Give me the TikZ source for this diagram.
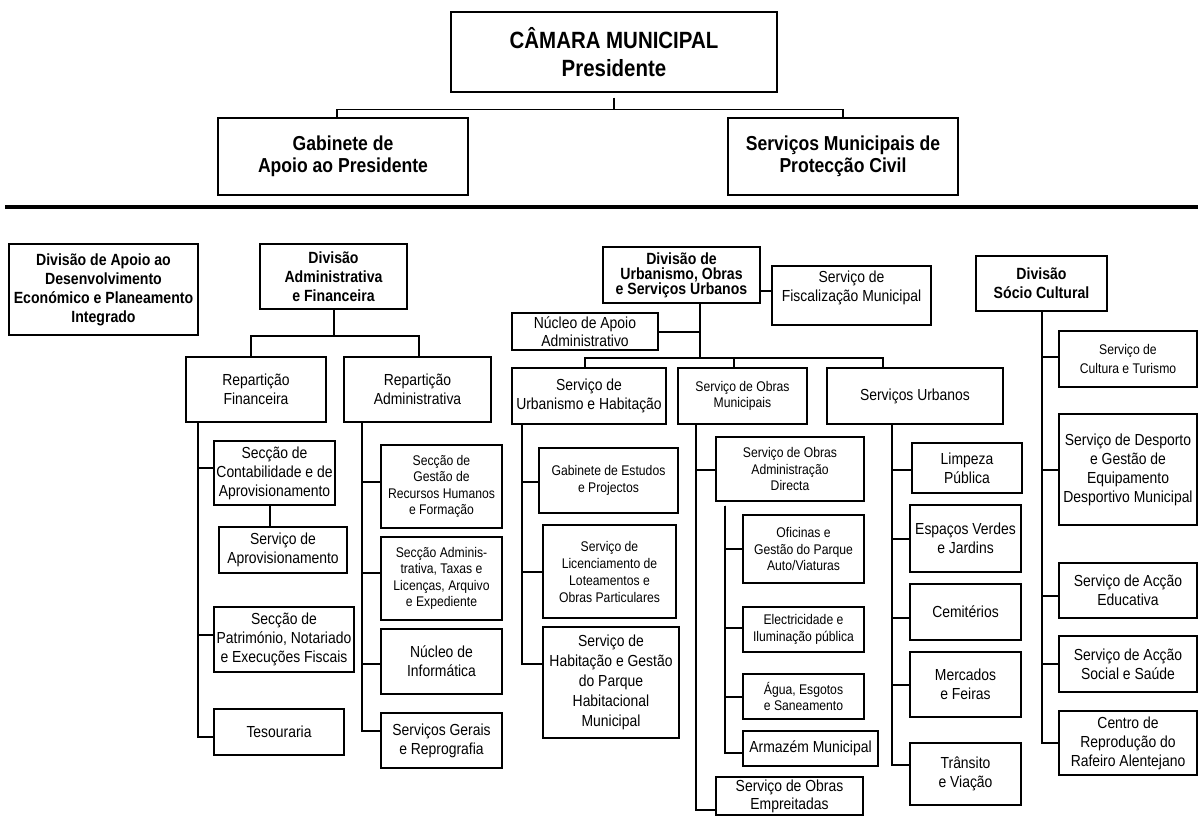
\documentclass[tikz,border=0pt]{standalone}
\usepackage{fontspec}
\setmainfont{Liberation Sans}[FakeStretch=0.87]

\begin{document}
\begin{tikzpicture}[x=1pt, y=-1pt]
    \tikzstyle{box_style} = [draw, line width=1.3pt, align=center, inner sep=1pt, font=\fontsize{16}{19}\selectfont]
    \tikzstyle{small_style} = [box_style, font=\fontsize{14}{16.5}\selectfont]
    \tikzstyle{head_style} = [box_style, font=\bfseries\fontsize{16.2}{19}\selectfont]
    \tikzstyle{link_style} = [line width=2pt]
    \tikzstyle{top_link_style} = [line width=1.6pt]

    \useasboundingbox (0,0) rectangle (1198,834);

    % presidency
    \node[box_style, font=\bfseries\fontsize{23.5}{28}\selectfont, minimum width=326pt, minimum height=80pt] (camara) at (614,52) {CÂMARA MUNICIPAL\\Presidente};
    \node[box_style, font=\bfseries\fontsize{20.2}{22}\selectfont, minimum width=250pt, minimum height=77pt] (gabinete) at (343,156.5) {Gabinete de\\Apoio ao Presidente};
    \node[box_style, font=\bfseries\fontsize{20.2}{22}\selectfont, minimum width=230pt, minimum height=77pt] (protcivil) at (843,156.5) {Serviços Municipais de\\Protecção Civil};

    \draw[top_link_style] ([yshift=-5]camara.south) -- ++(0,12) coordinate (topbar);
    \draw[top_link_style] ([xshift=-6]gabinete.north) |- (topbar) -| (protcivil.north);

    \draw[line width=4pt] (5,207) -- (1198,207);

    % divisao de apoio
    \node[head_style, minimum width=189pt, minimum height=91pt] (divapoio) at (103.5,289.5) {Divisão de Apoio ao\\Desenvolvimento\\Económico e Planeamento\\Integrado};

    % divisao administrativa e financeira
    \node[head_style, minimum width=147pt, minimum height=65pt] (divadm) at (333.5,276.5) {Divisão\\Administrativa\\e Financeira};
    \node[box_style, minimum width=140pt, minimum height=65pt] (repfin) at (256,389.5) {Repartição\\Financeira};
    \node[box_style, minimum width=147pt, minimum height=65pt] (repadm) at (417.5,389.5) {Repartição\\Administrativa};

    \draw[link_style] (divadm.south) -- ++(0,26) coordinate (admbar);
    \draw[link_style] ([xshift=-5]repfin.north) |- (admbar) -| ([xshift=1.5]repadm.north);

    \node[box_style, minimum width=121pt, minimum height=64pt] (contab) at (274.5,473) {Secção de\\Contabilidade e de\\Aprovisionamento};
    \node[box_style, minimum width=128pt, minimum height=46pt] (aprov) at (283,550) {Serviço de\\Aprovisionamento};
    \node[box_style, minimum width=140pt, minimum height=65pt] (patrim) at (284,639.5) {Secção de\\Património, Notariado\\e Execuções Fiscais};
    \node[box_style, minimum width=130pt, minimum height=46pt] (tesour) at (279,732) {Tesouraria};

    \draw[link_style] ([xshift=-4.5]contab.south) -- ([xshift=-4.5]contab.south |- aprov.north);
    \draw[link_style] ([xshift=13]repfin.south west) |- ([yshift=5]contab.west);
    \draw[link_style] ([xshift=13]repfin.south west) |- ([yshift=4.5]patrim.west);
    \draw[link_style] ([xshift=13]repfin.south west) |- ([yshift=-5]tesour.west);

    \node[small_style, minimum width=121pt, minimum height=83pt] (rhum) at (441.5,486.5) {Secção de\\Gestão de\\Recursos Humanos\\e Formação};
    \node[small_style, minimum width=121pt, minimum height=83pt] (taxas) at (441.5,578.5) {Secção Adminis-\\trativa, Taxas e\\Licenças, Arquivo\\e Expediente};
    \node[box_style, minimum width=121pt, minimum height=65pt] (inform) at (441.5,661.5) {Núcleo de\\Informática};
    \node[box_style, minimum width=121pt, minimum height=55pt] (gerais) at (441.5,740.5) {Serviços Gerais\\e Reprografia};

    \draw[link_style] ([xshift=19]repadm.south west) |- ([yshift=4.5]rhum.west);
    \draw[link_style] ([xshift=19]repadm.south west) |- ([yshift=5.5]taxas.west);
    \draw[link_style] ([xshift=19]repadm.south west) |- ([yshift=-2.5]inform.west);
    \draw[link_style] ([xshift=19]repadm.south west) |- ([yshift=9.5]gerais.west);

    % divisao de urbanismo
    \node[head_style, font=\bfseries\fontsize{16.2}{15}\selectfont, minimum width=157pt, minimum height=56pt] (divurb) at (681.5,275) {Divisão de\\Urbanismo, Obras\\e Serviços Urbanos};
    \node[box_style, minimum width=159pt, minimum height=59pt] (fiscal) at (851.5,295.5) {Serviço de\\Fiscalização Municipal\\\mbox{}};
    \node[box_style, font=\fontsize{16}{18}\selectfont, minimum width=146pt, minimum height=37pt] (nucapoio) at (585,331.5) {Núcleo de Apoio\\Administrativo};

    \draw[link_style] ([yshift=-16]divurb.east) coordinate (fiscbranch) -- (fiscbranch -| fiscal.west);
    \draw[link_style] ([xshift=18.5]divurb.south) coordinate (urbtop) -- ++(0,54) coordinate (urbbar);
    \draw[link_style] (nucapoio.east) -- (nucapoio.east -| urbtop);

    \node[box_style, minimum width=154pt, minimum height=56pt] (surbhab) at (589,396) {Serviço de\\Urbanismo e Habitação};
    \node[small_style, minimum width=129pt, minimum height=56pt] (sobras) at (742.5,396) {Serviço de Obras\\Municipais};
    \node[box_style, minimum width=176pt, minimum height=56pt] (surbanos) at (915,396) {Serviços Urbanos};

    \draw[link_style] ([xshift=-4]surbhab.north) |- (urbbar) -| ([xshift=-32]surbanos.north);
    \draw[link_style] ([xshift=-8.5]sobras.north) -- ([xshift=-8.5]sobras.north |- urbbar);

    \node[small_style, minimum width=139pt, minimum height=65pt] (gabest) at (608.5,480.5) {Gabinete de Estudos\\e Projectos};
    \node[small_style, font=\fontsize{14}{17}\selectfont, minimum width=133pt, minimum height=93pt] (licenc) at (609.5,571.5) {Serviço de\\Licenciamento de\\Loteamentos e\\Obras Particulares};
    \node[box_style, font=\fontsize{16}{20}\selectfont, minimum width=136pt, minimum height=111pt] (habit) at (611,682.5) {Serviço de\\Habitação e Gestão\\do Parque\\Habitacional\\Municipal};

    \draw[link_style] ([xshift=11]surbhab.south west) |- ([yshift=-1.5]gabest.west);
    \draw[link_style] ([xshift=11]surbhab.south west) |- ([yshift=-0.5]licenc.west);
    \draw[link_style] ([xshift=11]surbhab.south west) |- ([yshift=18.5]habit.west);

    \node[small_style, minimum width=148pt, minimum height=64pt] (sadmdir) at (790,469) {Serviço de Obras\\Administração\\Directa};
    \node[small_style, minimum width=121pt, minimum height=68pt] (oficinas) at (803.5,549) {Oficinas e\\Gestão do Parque\\Auto/Viaturas};
    \node[small_style, minimum width=121pt, minimum height=45pt] (electr) at (803.5,629.5) {Electricidade e\\Iluminação pública};
    \node[small_style, minimum width=121pt, minimum height=45pt] (agua) at (803.5,696.5) {Água, Esgotos\\e Saneamento};
    \node[box_style, minimum width=135pt, minimum height=35pt] (armazem) at (810.5,748.5) {Armazém Municipal};
    \node[box_style, font=\fontsize{16}{18}\selectfont, minimum width=147pt, minimum height=38pt] (empreit) at (789.5,796) {Serviço de Obras\\Empreitadas};

    \draw[link_style] ([xshift=19]sobras.south west) |- ([yshift=-1]sadmdir.west);
    \draw[link_style] ([xshift=19]sobras.south west) |- ([yshift=-14]empreit.west);
    \draw[link_style] ([xshift=10,yshift=-4]sadmdir.south west) |- (oficinas.west);
    \draw[link_style] ([xshift=10,yshift=-4]sadmdir.south west) |- ([yshift=1.5]electr.west);
    \draw[link_style] ([xshift=10,yshift=-4]sadmdir.south west) |- ([yshift=-0.5]agua.west);
    \draw[link_style] ([xshift=10,yshift=-4]sadmdir.south west) |- ([yshift=-4.5]armazem.west);

    \node[box_style, minimum width=110pt, minimum height=50pt] (limpeza) at (967,468) {Limpeza\\Pública};
    \node[box_style, minimum width=111pt, minimum height=67pt] (espacos) at (965.5,538.5) {Espaços Verdes\\e Jardins};
    \node[box_style, minimum width=111pt, minimum height=56pt] (cemit) at (965.5,612) {Cemitérios};
    \node[box_style, minimum width=111pt, minimum height=65pt] (mercados) at (965.5,684.5) {Mercados\\e Feiras};
    \node[box_style, minimum width=111pt, minimum height=62pt] (transito) at (965.5,774) {Trânsito\\e Viação};

    \draw[link_style] ([xshift=66]surbanos.south west) |- ([yshift=-2]limpeza.west);
    \draw[link_style] ([xshift=66]surbanos.south west) |- (espacos.west);
    \draw[link_style] ([xshift=66]surbanos.south west) |- ([yshift=-6]cemit.west);
    \draw[link_style] ([xshift=66]surbanos.south west) |- ([yshift=-0.5]mercados.west);
    \draw[link_style] ([xshift=66]surbanos.south west) |- ([yshift=9]transito.west);

    % divisao socio cultural
    \node[head_style, minimum width=131pt, minimum height=55pt] (divsoc) at (1041.5,283.5) {Divisão\\Sócio Cultural};
    \node[small_style, font=\fontsize{14}{19}\selectfont, minimum width=138pt, minimum height=56pt] (cultura) at (1128,359) {Serviço de\\Cultura e Turismo};
    \node[box_style, minimum width=138pt, minimum height=111pt] (desporto) at (1128,469.5) {Serviço de Desporto\\e Gestão de\\Equipamento\\Desportivo Municipal};
    \node[box_style, minimum width=138pt, minimum height=55pt] (educ) at (1128,590.5) {Serviço de Acção\\Educativa};
    \node[box_style, minimum width=138pt, minimum height=56pt] (social) at (1128,664) {Serviço de Acção\\Social e Saúde};
    \node[box_style, minimum width=138pt, minimum height=64pt] (centro) at (1128,743) {Centro de\\Reprodução do\\Rafeiro Alentejano};

    \draw[link_style] (divsoc.south) |- ([yshift=2]cultura.west);
    \draw[link_style] (divsoc.south) |- ([yshift=-0.5]desporto.west);
    \draw[link_style] (divsoc.south) |- ([yshift=-5.5]educ.west);
    \draw[link_style] (divsoc.south) |- (social.west);
    \draw[link_style] (divsoc.south) |- (centro.west);
\end{tikzpicture}
\end{document}
